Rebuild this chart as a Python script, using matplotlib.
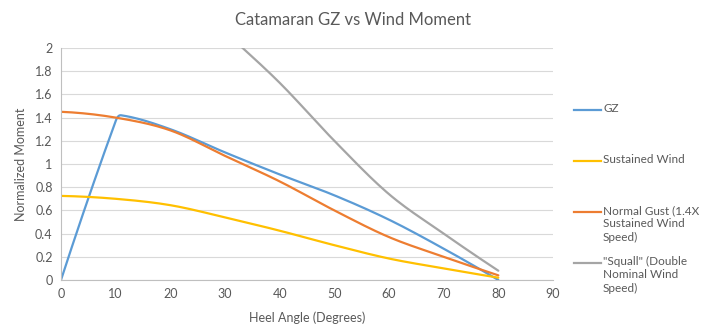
"""Catamaran GZ vs wind moment, Excel-style smoothed line chart -> out.png"""
import numpy as np
import matplotlib

matplotlib.use("Agg")
import matplotlib.pyplot as plt  # noqa: E402
from matplotlib.lines import Line2D  # noqa: E402

plt.rcParams["font.family"] = ["Lato", "DejaVu Sans"]

# values
heel = [0, 10, 20, 30, 40, 50, 60, 70, 80]
gz_heel = [0, 10, 11, 20, 30, 40, 50, 60, 70, 80]
gz = [0, 1.37, 1.42, 1.30, 1.10, 0.91, 0.73, 0.52, 0.27, 0.0]
sustained = [0.725, 0.70, 0.645, 0.54, 0.425, 0.30, 0.185, 0.10, 0.02]
gust = [1.45, 1.40, 1.29, 1.07, 0.85, 0.60, 0.37, 0.20, 0.04]
squall = [2.90, 2.80, 2.58, 2.14, 1.70, 1.20, 0.74, 0.40, 0.08]

labels = ["GZ", "Sustained Wind", "Normal Gust (1.4X\nSustained Wind\nSpeed)",
          "\"Squall\" (Double\nNominal Wind\nSpeed)"]
COLORS = ["#5b9bd5", "#ffc000", "#ed7d31", "#a5a5a5"]
TXT = "#595959"


def smooth(x, y, n=20):
    # cubic hermite through the points in x, roughly Excel's "smoothed line"
    x = np.asarray(x, float)
    y = np.asarray(y, float)
    m = np.empty_like(y)
    m[1:-1] = (y[2:] - y[:-2]) / (x[2:] - x[:-2])
    m[0] = 2 * (y[1] - y[0]) / (x[1] - x[0]) - m[1]
    m[-1] = 2 * (y[-1] - y[-2]) / (x[-1] - x[-2]) - m[-2]
    xs, ys = [], []
    t = np.linspace(0, 1, n, endpoint=False)
    for i in range(len(x) - 1):
        h = x[i + 1] - x[i]
        h00 = 2 * t ** 3 - 3 * t ** 2 + 1
        h10 = t ** 3 - 2 * t ** 2 + t
        h01 = -2 * t ** 3 + 3 * t ** 2
        h11 = t ** 3 - t ** 2
        xs.extend(x[i] + t * h)
        ys.extend(h00 * y[i] + h10 * h * m[i] + h01 * y[i + 1] + h11 * h * m[i + 1])
    xs.append(x[-1])
    ys.append(y[-1])
    return xs, ys


W, H = 706, 329
fig = plt.figure(figsize=(W / 100, H / 100), dpi=100)
ax = fig.add_axes([61 / W, 1 - 280 / H, (553 - 61) / W, (280 - 48) / H])

series = [(gz_heel, gz), (heel, sustained), (heel, gust), (heel, squall)]
for (xs, ys), c in zip(series, COLORS):
    sx, sy = smooth(xs, ys)
    ax.plot(sx, sy, color=c, lw=1.6, solid_capstyle="round")

ax.set_xlim(0, 90)
ax.set_ylim(0, 2)
ax.set_xticks(range(0, 91, 10))
ax.set_yticks(np.arange(0, 2.01, 0.2))
ax.set_yticklabels(["0", "0.2", "0.4", "0.6", "0.8", "1", "1.2", "1.4", "1.6", "1.8", "2"])
ax.tick_params(length=0, labelsize=9, colors=TXT, pad=6)
ax.grid(axis="y", color="#d9d9d9", lw=0.8)
ax.set_axisbelow(True)
for s in ("top", "right"):
    ax.spines[s].set_visible(False)
for s in ("left", "bottom"):
    ax.spines[s].set_color("#bfbfbf")
    ax.spines[s].set_linewidth(0.8)
ax.set_xlabel("Heel Angle (Degrees)", fontsize=9, color=TXT, labelpad=8)
ax.set_ylabel("Normalized Moment", fontsize=9, color=TXT, labelpad=6)
fig.text(353 / W, 1 - 20 / H, "Catamaran GZ vs Wind Moment", fontsize=12,
         color=TXT, ha="center", va="center")

# legend, Excel style: fixed slots on the right
for i, (lab, c) in enumerate(zip(labels, COLORS)):
    y = 1 - (110 + 51 * i) / H
    fig.add_artist(Line2D([574 / W, 601 / W], [y, y], color=c, lw=1.6,
                          transform=fig.transFigure))
    fig.text(603 / W, y + 7 / H, lab, fontsize=8.5, color=TXT, ha="left", va="top",
             linespacing=1.25)

fig.savefig("out.png", dpi=100)
